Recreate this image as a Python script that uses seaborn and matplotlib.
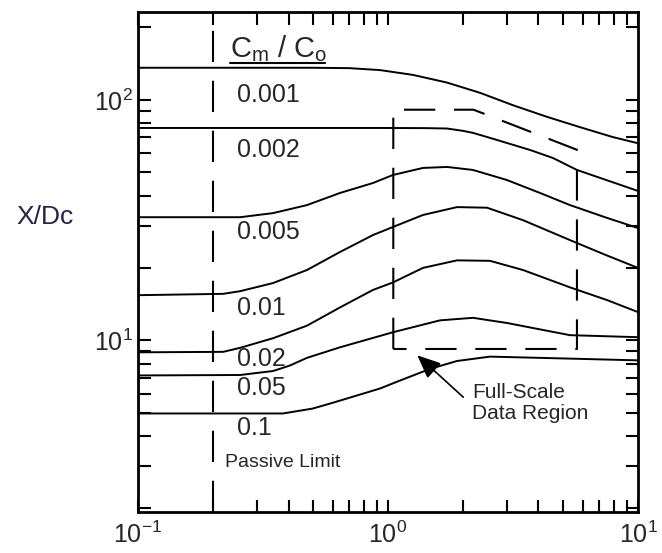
import numpy as np
import pandas as pd
import seaborn as sns
from matplotlib import pyplot as plt
from matplotlib.ticker import LogLocator, NullFormatter

# curves, one per Cm/Co ratio
x_001 = [0.1, 0.5, 0.7, 0.929, 1.259, 1.722, 2.333, 3.162, 4.325, 5.861, 7.943, 10]
y_001 = [136, 136, 135.5, 133, 127, 118, 107, 95, 85, 77, 70, 66]

x_002 = [0.1, 0.929, 1.4, 1.722, 2.0, 2.188, 2.729, 3.698, 4.571, 5.702, 10]
y_002 = [76.4, 76.4, 76.3, 76.0, 74.3, 72.9, 68.1, 61.9, 57.3, 51.1, 41.8]

x_005 = [0.1, 0.256, 0.347, 0.474, 0.643, 0.871, 1.047, 1.380, 1.722, 2.188, 2.992, 4.055, 5.346, 7.38, 10]
y_005 = [32.5, 32.5, 33.8, 36.5, 41.0, 45.1, 48.7, 52.1, 52.6, 51.1, 46.4, 41.0, 36.5, 32.5, 29.3]

x_01 = [0.1, 0.219, 0.256, 0.347, 0.474, 0.643, 0.871, 1.047, 1.380, 1.888, 2.489, 3.467, 5.346, 7.38, 10]
y_01 = [15.4, 15.6, 16.0, 17.3, 19.6, 23.3, 27.4, 29.6, 33.2, 35.8, 35.6, 31.6, 26.1, 22.7, 20.0]

x_02 = [0.1, 0.219, 0.256, 0.347, 0.474, 0.643, 0.871, 1.047, 1.380, 1.888, 2.559, 3.467, 5.346, 7.516, 10]
y_02 = [8.91, 8.95, 9.3, 10.2, 11.5, 13.7, 16.2, 17.4, 20.0, 21.5, 21.4, 19.6, 16.6, 14.7, 13.1]

x_05 = [0.1, 0.256, 0.347, 0.405, 0.474, 0.643, 1.047, 1.614, 2.188, 2.992, 5.346, 10]
y_05 = [7.14, 7.17, 7.45, 7.85, 8.45, 9.35, 10.8, 12.1, 12.4, 11.8, 10.5, 10.3]

x_1 = [0.1, 0.380, 0.5, 0.603, 0.929, 1.117, 1.472, 1.888, 2.559, 4.055, 10]
y_1 = [4.96, 4.96, 5.2, 5.5, 6.3, 6.8, 7.6, 8.2, 8.55, 8.45, 8.25]

ratios = ["0.001", "0.002", "0.005", "0.01", "0.02", "0.05", "0.1"]
curve_x = [x_001, x_002, x_005, x_01, x_02, x_05, x_1]
curve_y = [y_001, y_002, y_005, y_01, y_02, y_05, y_1]
# where each ratio label sits (left edge x, centre y)
label_x = [0.249] * 7
label_y = [105, 61.9, 28.2, 13.6, 8.39, 6.31, 4.33]

passive_limit = 0.2
region_x = [1.05, 1.05, 2.2, 5.7, 5.7, 1.05]
region_y = [9.2, 91, 91, 62, 9.2, 9.2]

df = pd.concat(
    [pd.DataFrame({"x": cx, "y": cy, "ratio": r}) for cx, cy, r in zip(curve_x, curve_y, ratios)],
    ignore_index=True,
)

sns.set_style("ticks")
plt.rcParams["font.family"] = ["Liberation Sans", "DejaVu Sans"]
plt.rcParams["mathtext.fontset"] = "custom"
plt.rcParams["mathtext.rm"] = "Liberation Sans"
plt.rcParams["mathtext.it"] = "Liberation Sans"
plt.rcParams["axes.unicode_minus"] = False

fig = plt.figure(figsize=(6.62, 5.53), dpi=100)
ax = fig.add_axes([0.2085, 0.0741, 0.7552, 0.9042])

sns.lineplot(data=df, x="x", y="y", units="ratio", estimator=None, sort=False,
             color="black", lw=1.4, ax=ax, legend=False)

ax.set_xscale("log")
ax.set_yscale("log")
ax.set_xlim(0.1, 10)
ax.set_ylim(1.93, 232)

# dashed guides
ax.axvline(passive_limit, color="black", lw=1.5, dashes=(15, 9))
ax.plot(region_x, region_y, color="black", lw=1.5, dashes=(15, 9))

for r, lx, ly in zip(ratios, label_x, label_y):
    ax.text(lx, ly, r, fontsize=18, ha="left", va="center")

ax.text(0.233, 164, r"$\mathregular{C_m\ /\ C_o}$", fontsize=21, ha="left", va="center")
ax.annotate("", xy=(0.184, 0.898), xytext=(0.374, 0.898), xycoords="axes fraction",
            arrowprops=dict(arrowstyle="-", lw=1.5, color="black", shrinkA=0, shrinkB=0))
ax.text(0.223, 3.1, "Passive Limit", fontsize=14, ha="left", va="center")

ax.annotate("", xy=(1.31, 8.66), xytext=(2.0, 5.8),
            arrowprops=dict(arrowstyle="-|>,head_length=0.8,head_width=0.35", lw=1.2,
                            color="black", mutation_scale=18, shrinkA=0, shrinkB=0))
ax.text(2.17, 5.5, "Full-Scale\nData Region", fontsize=15, ha="left", va="center",
        linespacing=1.15)

ax.set_xlabel("")
ax.set_ylabel("X/Dc", fontsize=19, rotation=0, color="#23234a", ha="center", va="center")
ax.yaxis.set_label_coords(-0.186, 0.59)

for axis in (ax.xaxis, ax.yaxis):
    axis.set_major_locator(LogLocator(base=10))
    axis.set_minor_locator(LogLocator(base=10, subs=np.arange(2, 10)))
    axis.set_minor_formatter(NullFormatter())
ax.tick_params(which="both", direction="in", top=True, right=True, length=9, width=1.5,
               labelsize=18, color="black")
ax.tick_params(axis="y", pad=4)
ax.tick_params(axis="x", pad=7)
for s in ax.spines.values():
    s.set_linewidth(2)
    s.set_color("black")

fig.savefig("out.png", dpi=100)
